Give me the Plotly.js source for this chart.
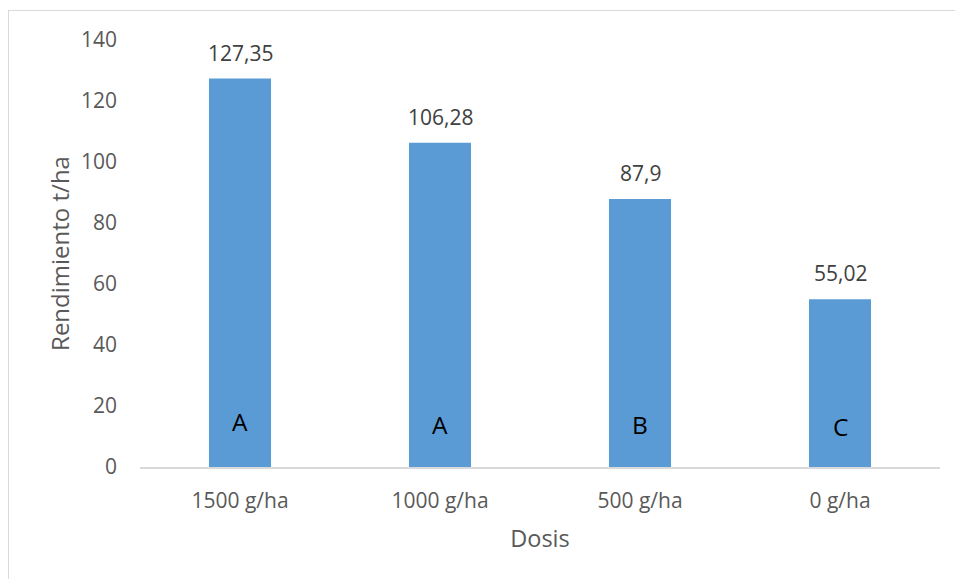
<!DOCTYPE html>
<html>
<head>
<meta charset="utf-8">
<script src="https://cdn.plot.ly/plotly-3.0.1.min.js"></script>
<style>
  html, body { margin: 0; padding: 0; background: #fff; }
  #wrap { position: relative; width: 955px; height: 579px; overflow: hidden; }
  #frame { position: absolute; left: 8px; top: 10px; width: 1000px; height: 600px;
           border-top: 1px solid #d9d9d9; border-left: 1px solid #d9d9d9; pointer-events: none; }
  #chart { position: absolute; left: 0; top: 0; width: 955px; height: 579px; }
</style>
</head>
<body>
<div id="wrap">
  <div id="chart"></div>
  <div id="frame"></div>
</div>
<script>
// Data
const categories = ["1500 g/ha", "1000 g/ha", "500 g/ha", "0 g/ha"];
const yields = [127.35, 106.28, 87.9, 55.02];
const valueLabels = ["127,35", "106,28", "87,9", "55,02"];
const groupLetters = ["A", "A", "B", "C"];
const letterHeights = [15, 14, 14, 13.4];

const FONT = "Open Sans, Noto Sans, sans-serif";

const annotations = [];
categories.forEach((c, i) => {
  annotations.push({
    x: c, y: yields[i], xref: "x", yref: "y",
    text: valueLabels[i], showarrow: false,
    yanchor: "bottom", yshift: 10,
    font: { family: FONT, size: 21, color: "#404040" }
  });
  annotations.push({
    x: c, y: letterHeights[i], xref: "x", yref: "y",
    text: groupLetters[i], showarrow: false,
    yanchor: "middle",
    font: { family: FONT, size: 24.5, color: "#000000" }
  });
});

const trace = {
  type: "bar",
  x: categories,
  y: yields,
  marker: { color: "#5B9BD5" },
  width: 0.31,
  hoverinfo: "x+y"
};

const layout = {
  width: 955, height: 579,
  margin: { l: 140, r: 15, t: 40, b: 112 },
  paper_bgcolor: "#ffffff",
  plot_bgcolor: "#ffffff",
  showlegend: false,
  font: { family: FONT, color: "#595959" },
  xaxis: {
    type: "category",
    showline: true, linecolor: "#d9d9d9", linewidth: 1.5,
    showgrid: false, zeroline: false,
    ticks: "", ticklabelstandoff: 14,
    tickfont: { family: FONT, size: 21, color: "#595959" },
    title: { text: "Dosis", standoff: 18, font: { family: FONT, size: 23.5, color: "#595959" } }
  },
  yaxis: {
    range: [0, 140],
    dtick: 20, tick0: 0,
    showline: false, showgrid: false, zeroline: false,
    ticks: "", ticklabelstandoff: 22,
    tickfont: { family: FONT, size: 21, color: "#595959" },
    title: { text: "Rendimiento t/ha", standoff: 4, font: { family: FONT, size: 24, color: "#595959" } }
  },
  annotations: annotations
};

Plotly.newPlot("chart", [trace], layout, { displayModeBar: false, staticPlot: true });
</script>
</body>
</html>
